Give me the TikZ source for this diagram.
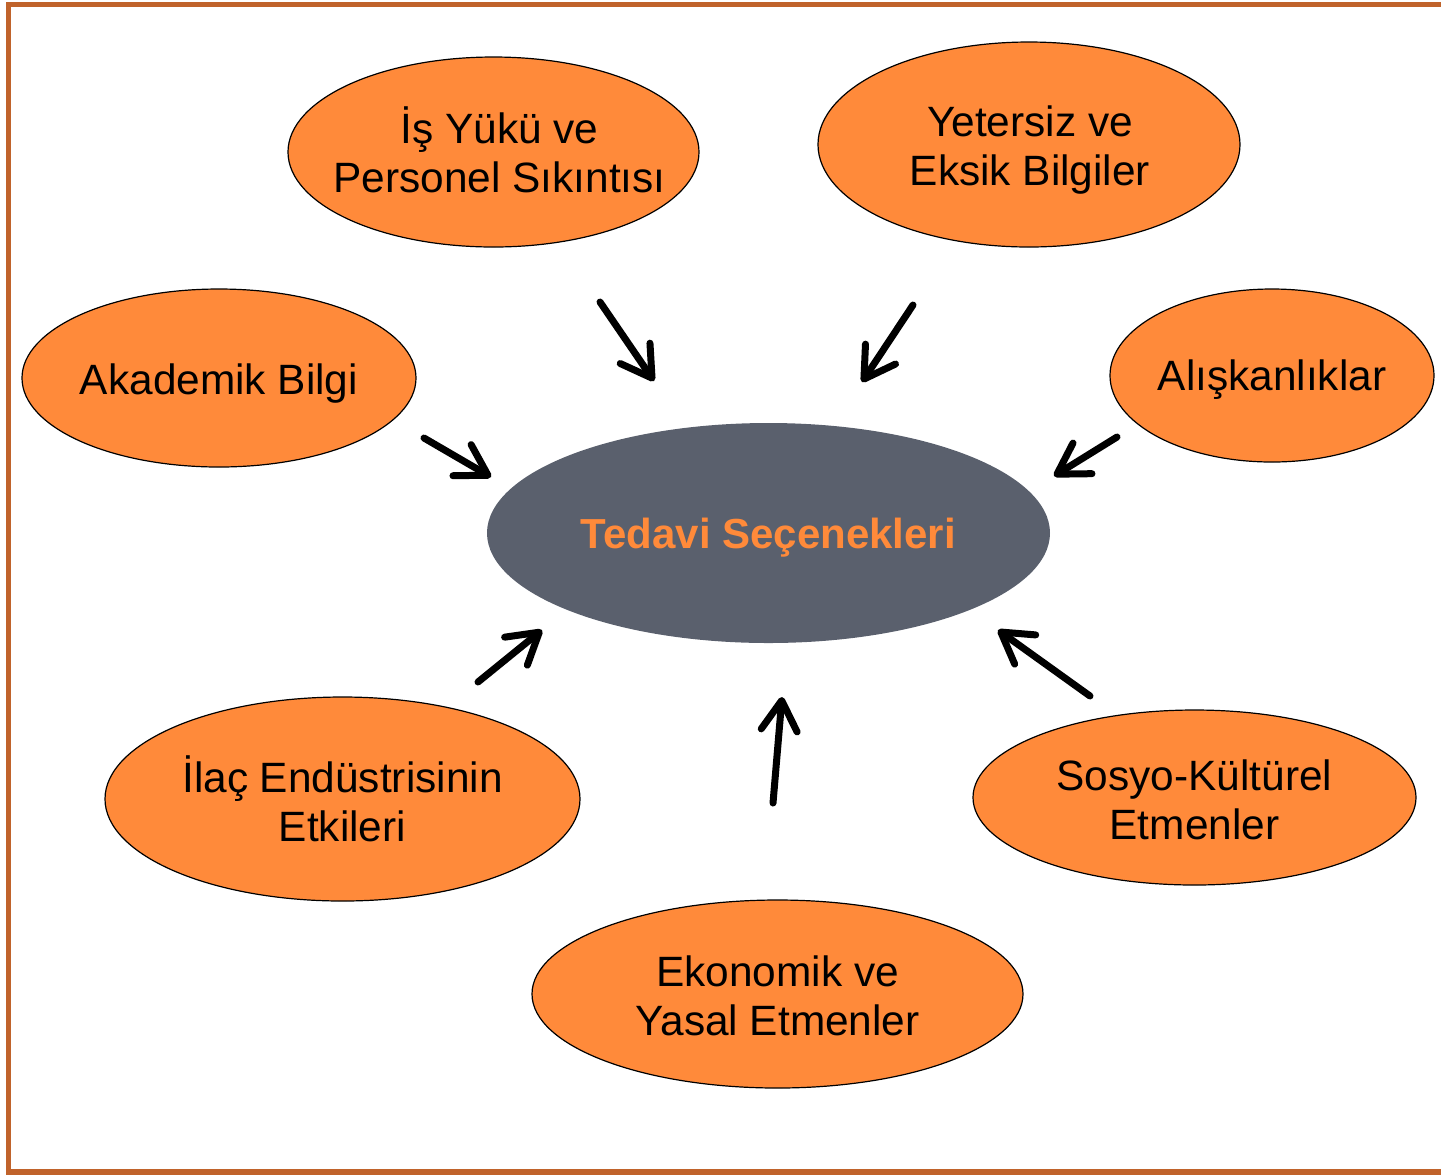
\documentclass[tikz,border=0pt]{standalone}
\usepackage{fontspec}
\setmainfont{Liberation Sans}
\usetikzlibrary{arrows.meta,shapes.geometric}
\definecolor{frameC}{HTML}{C0632B}
\definecolor{orangeF}{HTML}{FF8A3A}
\definecolor{greyF}{HTML}{5A606D}
\tikzset{
  bubble/.style={ellipse, draw=black, line width=0.6pt, fill=orangeF, inner sep=0pt},
  hub/.style={ellipse, fill=greyF, inner sep=0pt},
  btext/.style={font=\fontsize{21.2}{24.5}\selectfont, align=center, text=black, inner sep=0pt},
  htext/.style={font=\fontsize{21}{24}\selectfont\bfseries, text=orangeF, inner sep=0pt},
  push/.style={line width=3.5pt, line cap=round, -{Straight Barb[length=15pt,width=18pt,round]}}
}
\begin{document}
\begin{tikzpicture}[x=0.5pt,y=-0.5pt]
\useasboundingbox (0,0) rectangle (1441,1175);
\draw[frameC, line width=2.6pt] (1441,4.5) -- (8.5,4.5) -- (8.5,1172) -- (1441,1172);
\node[bubble, minimum width=205.5pt, minimum height=95pt] (isyuku) at (493.5,152) {};
\node[bubble, minimum width=211pt, minimum height=102.5pt] (yetersiz) at (1029,144.5) {};
\node[bubble, minimum width=197pt, minimum height=89pt] (akademik) at (219,378) {};
\node[bubble, minimum width=162pt, minimum height=86.5pt] (aliskan) at (1272,375.5) {};
\node[hub, minimum width=281.5pt, minimum height=110pt] (tedavi) at (768.5,533) {};
\node[bubble, minimum width=237.5pt, minimum height=102pt] (ilac) at (342.5,799) {};
\node[bubble, minimum width=221.5pt, minimum height=87.5pt] (sosyo) at (1194.5,797.5) {};
\node[bubble, minimum width=245.5pt, minimum height=94pt] (ekonomik) at (777.5,994) {};
\node[btext] (isyukuT) at (499.5,150) {İş Yükü ve\\Personel Sıkıntısı};
\node[btext] (yetersizT) at (1030,150) {Yetersiz ve\\Eksik Bilgiler};
\node[btext] (akademikT) at (219,384) {Akademik Bilgi};
\node[btext] (aliskanT) at (1272,380) {Alışkanlıklar};
\node[htext] (tedaviT) at (768.5,538) {Tedavi Seçenekleri};
\node[btext] (ilacT) at (342.5,799) {İlaç Endüstrisinin\\Etkileri};
\node[btext] (sosyoT) at (1194.5,799.5) {Sosyo-Kültürel\\Etmenler};
\node[btext] (ekonomikT) at (777.5,996) {Ekonomik ve\\Yasal Etmenler};
\coordinate (a1s) at (600,302); \coordinate (a1e) at (654,381);
\coordinate (a2s) at (913,305); \coordinate (a2e) at (862,382);
\coordinate (a3s) at (424,438); \coordinate (a3e) at (491,477);
\coordinate (a4s) at (1117,437); \coordinate (a4e) at (1054,476);
\coordinate (a5s) at (478,682); \coordinate (a5e) at (542,630);
\coordinate (a6s) at (1090,696); \coordinate (a6e) at (998,630);
\coordinate (a7s) at (773,803); \coordinate (a7e) at (782,697);
\draw[push] (a1s) -- (a1e);
\draw[push] (a2s) -- (a2e);
\draw[push] (a3s) -- (a3e);
\draw[push] (a4s) -- (a4e);
\draw[push] (a5s) -- (a5e);
\draw[push] (a6s) -- (a6e);
\draw[push] (a7s) -- (a7e);
\end{tikzpicture}
\end{document}
